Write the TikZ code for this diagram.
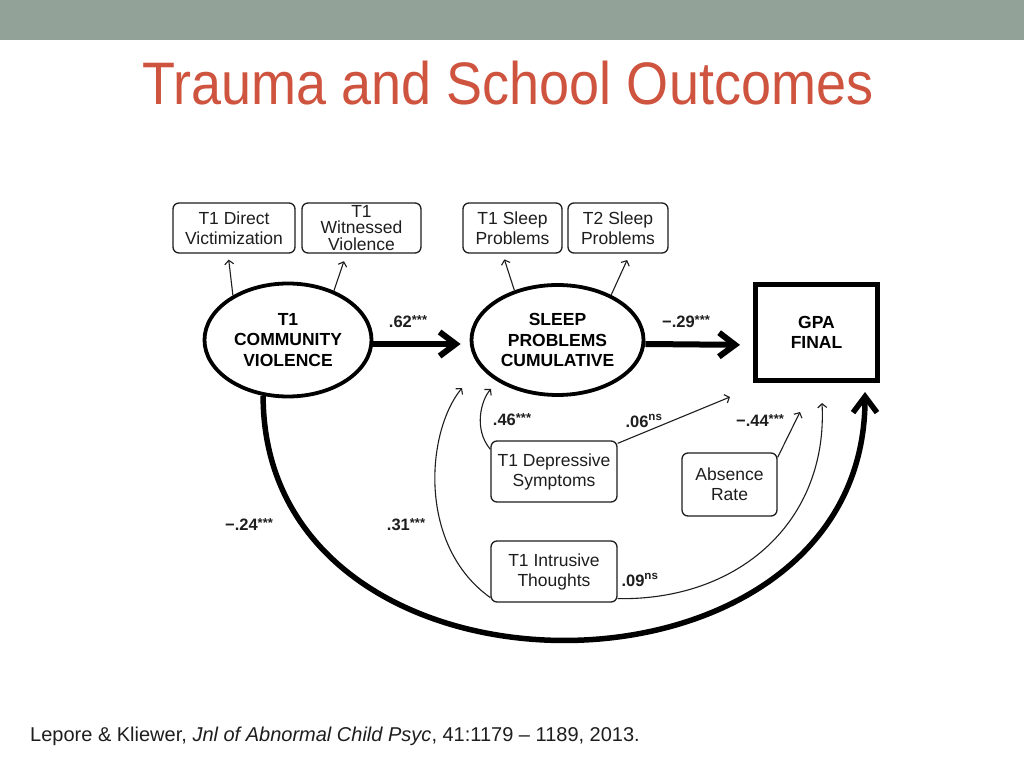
\documentclass[tikz,border=0pt]{standalone}
\usepackage{fontspec}
\setmainfont{Liberation Sans}
\usepackage{tikz}
\usetikzlibrary{arrows.meta}
\usetikzlibrary{shapes}

\definecolor{bandgray}{RGB}{147,162,153}
\definecolor{titlered}{RGB}{207,84,63}
\definecolor{inkgray}{RGB}{30,30,30}

\newcommand{\threestar}{\raisebox{3pt}{\fontsize{13}{13}\selectfont ***}}

\begin{document}
\begin{tikzpicture}[x=1pt, y=1pt,
        box_style/.style={rectangle, rounded corners=6pt, draw=inkgray, line width=1.3pt, align=center, text=inkgray, inner sep=0pt, font=\fontsize{17.5}{20}\selectfont},
        factor_style/.style={ellipse, draw=black, line width=3.8pt, align=center, inner sep=0pt, font=\bfseries\fontsize{17.5}{20.5}\selectfont},
        outcome_style/.style={rectangle, draw=black, line width=5pt, align=center, inner sep=0pt, font=\bfseries\fontsize{17.5}{20}\selectfont},
        coef_style/.style={inner sep=0pt, text=inkgray, font=\bfseries\fontsize{16.5}{16}\selectfont},
        load_style/.style={draw=inkgray, line width=1.1pt, -{Straight Barb[length=4pt,width=9pt]}},
        path_style/.style={draw=black, line width=6pt, -{Straight Barb[length=16pt,width=24pt]}}]

        \fill [white] (0,0) rectangle (1024,768);
        \useasboundingbox (0,0) rectangle (1024,768);
        \fill [bandgray] (0,728) rectangle (1024,768);

        \node [anchor=base, text=titlered, font=\fontsize{60}{60}\selectfont] (title) at (508,663) {\scalebox{0.9}[1]{Trauma and School Outcomes}};

        % indicators
        \node [box_style, minimum width=122, minimum height=50] (dv) at (234,540) {T1 Direct\\Victimization};
        \node [box_style, minimum width=119, minimum height=50, font=\fontsize{17.5}{16.5}\selectfont] (wv) at (361.5,540) {T1\\Witnessed\\Violence};
        \node [box_style, minimum width=99, minimum height=50] (s1) at (512.5,540) {T1 Sleep\\Problems};
        \node [box_style, minimum width=100, minimum height=50] (s2) at (618,540) {T2 Sleep\\Problems};

        % latent factors and outcome
        \node [factor_style, minimum width=167, minimum height=113] (cv) at (288,428) {T1\\COMMUNITY\\VIOLENCE};
        \node [factor_style, minimum width=172, minimum height=110] (sp) at (557.5,428) {SLEEP\\PROBLEMS\\CUMULATIVE};
        \node [outcome_style, minimum width=122, minimum height=96] (gpa) at (816.5,435.5) {GPA\\FINAL};

        % covariates
        \node [box_style, minimum width=126, minimum height=61] (dep) at (554,296.5) {T1 Depressive\\Symptoms};
        \node [box_style, minimum width=95, minimum height=63] (abs) at (729.5,283.5) {Absence\\Rate};
        \node [box_style, minimum width=126, minimum height=61] (intr) at (554,196.5) {T1 Intrusive\\Thoughts};

        \coordinate (tip31) at (462,380);
        \coordinate (tip46) at (491,379);
        \coordinate (tip06) at (730,371);
        \coordinate (tip44) at (800,356);
        \coordinate (tip09) at (822,365);

        \draw [load_style, shorten >=6pt] (cv.141) -- ([xshift=-6pt]dv.south);
        \draw [load_style, shorten >=8pt] (cv.47) -- ([xshift=-15pt]wv.south);
        \draw [load_style, shorten >=6pt] (sp.131) -- ([xshift=-10pt]s1.south);
        \draw [load_style, shorten >=7pt] (sp.40) -- ([xshift=12pt]s2.south);

        \draw [path_style, shorten >=9pt] ([yshift=-4pt]cv.east) -- ([yshift=-4pt]sp.west);
        \draw [path_style, shorten >=13pt] ([yshift=-4pt]sp.east) -- ([yshift=-12.5pt]gpa.west);
        \draw [path_style, line width=5.5pt, shorten >=9pt] (cv.246) .. controls +(0,-327) and +(0,-337) .. ([xshift=48.5pt]gpa.south);

        \draw [load_style] ([yshift=-9pt]dep.north west) .. controls +(-17,20) and +(-10,-11) .. (tip46);
        \draw [load_style] ([yshift=-3pt]dep.north east) -- (tip06);
        \draw [load_style] ([yshift=-5pt]abs.north east) -- (tip44);
        \draw [load_style] ([yshift=5pt]intr.south west) .. controls +(-73,52) and +(-36,-44) .. (tip31);
        \draw [load_style] ([yshift=4pt]intr.south east) .. controls +(123,-2) and +(6,-117) .. (tip09);

        \node [coef_style] (c62) at (408,446) {.62\threestar};
        \node [coef_style] (c29) at (686,446) {−.29\threestar};
        \node [coef_style] (c46) at (512,348) {.46\threestar};
        \node [coef_style] (c06) at (644,347) {.06\textsuperscript{ns}};
        \node [coef_style] (c44) at (760,347) {−.44\threestar};
        \node [coef_style] (c24) at (249,243) {−.24\threestar};
        \node [coef_style] (c31) at (406,243) {.31\threestar};
        \node [coef_style] (c09) at (640,188) {.09\textsuperscript{ns}};

        \node [anchor=base west, inner sep=0pt, text=inkgray, font=\fontsize{20}{20}\selectfont] (cite) at (30,27) {Lepore \& Kliewer, \textit{Jnl of Abnormal Child Psyc}, 41:1179 -- 1189, 2013.};

        \end{tikzpicture}
\end{document}
